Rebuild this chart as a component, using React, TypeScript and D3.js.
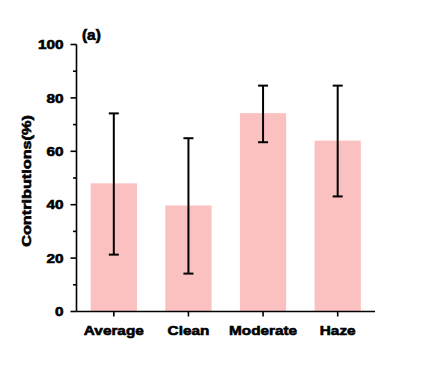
import React from "react";
import * as d3 from "d3";

const categories = ["Average", "Clean", "Moderate", "Haze"];
const values = [48, 39.7, 74.3, 64];
const errLow = [21.3, 14.2, 63.4, 43.1];
const errHigh = [74.2, 64.9, 84.6, 84.6];
const yTicks = [0, 20, 40, 60, 80, 100];
const yMinorTicks = [10, 30, 50, 70, 90];

export default function App() {
  const W = 424, H = 376;
  const left = 76.5, right = 375, top = 44.5, bottom = 311.5;
  const x = d3.scaleBand<string>().domain(categories).range([left, right]).paddingInner(0.38).paddingOuter(0.19);
  const y = d3.scaleLinear().domain([0, 100]).range([bottom, top]);
  const font = "'Liberation Sans', Arial, sans-serif";
  const capW = 10;
  const stretch = 1.18;
  return (
    <svg width={W} height={H} style={{ position: "absolute", left: 0, top: 0 }}>
      <rect width={W} height={H} fill="#fff" />
      {categories.map((c, i) => (
        <rect key={c} x={x(c)} y={y(values[i])} width={x.bandwidth()} height={bottom - y(values[i])} fill="#FBC0C0" />
      ))}
      {categories.map((c, i) => {
        const cx = (x(c) as number) + x.bandwidth() / 2;
        return (
          <g key={c} stroke="#000" strokeWidth={2}>
            <line x1={cx} x2={cx} y1={y(errLow[i])} y2={y(errHigh[i])} />
            <line x1={cx - capW / 2} x2={cx + capW / 2} y1={y(errLow[i])} y2={y(errLow[i])} />
            <line x1={cx - capW / 2} x2={cx + capW / 2} y1={y(errHigh[i])} y2={y(errHigh[i])} />
          </g>
        );
      })}
      <g stroke="#000" strokeWidth={1.6}>
        <line x1={left} x2={left} y1={top} y2={bottom} />
        <line x1={left} x2={right} y1={bottom} y2={bottom} />
        {yTicks.map((t) => (
          <line key={t} x1={left - 6} x2={left} y1={y(t)} y2={y(t)} />
        ))}
        {yMinorTicks.map((t) => (
          <line key={t} x1={left - 3.5} x2={left} y1={y(t)} y2={y(t)} />
        ))}
        {categories.map((c) => {
          const cx = (x(c) as number) + x.bandwidth() / 2;
          return <line key={c} x1={cx} x2={cx} y1={bottom} y2={bottom + 5} />;
        })}
      </g>
      <g fontFamily={font} fontWeight="bold" fontSize={13} fill="#000" stroke="#000" strokeWidth={0.6}>
        {yTicks.map((t) => (
          <text key={t} transform={`translate(${left - 13},${y(t)}) scale(${stretch},1)`} dy="0.36em" textAnchor="end">{t}</text>
        ))}
        {categories.map((c) => {
          const cx = (x(c) as number) + x.bandwidth() / 2;
          return <text key={c} transform={`translate(${cx},${bottom + 23.5}) scale(${stretch},1)`} textAnchor="middle">{c}</text>;
        })}
        <text transform={`translate(31,${(top + bottom) / 2 + 3}) rotate(-90) scale(1.25,1)`} textAnchor="middle">Contributions(%)</text>
        <text transform={`translate(82,40) scale(1.1,1)`} fontSize={14}>(a)</text>
      </g>
    </svg>
  );
}
